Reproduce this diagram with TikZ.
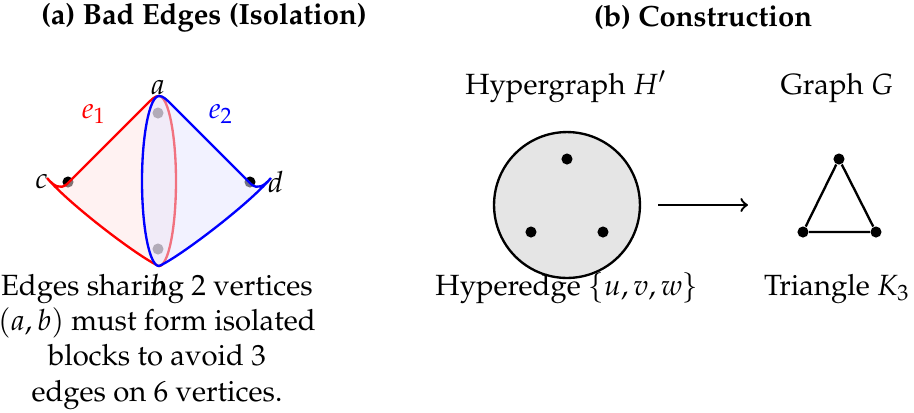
\documentclass[tikz,border=0pt]{standalone}
\usepackage[T1]{fontenc}
\usepackage{mathpazo}
\usetikzlibrary{arrows.meta}

\begin{document}
\begin{tikzpicture}[
    x=0.342pt, y=-0.342pt, >=to,
    vtx/.style={circle, fill=black, inner sep=0pt, minimum size=3.8pt},
    lbl/.style={inner sep=0pt},
    title/.style={font=\bfseries},
    edgeone/.style={draw=red, thick, fill=red!10, fill opacity=0.5},
    edgetwo/.style={draw=blue, thick, fill=blue!10, fill opacity=0.5},
]
    \useasboundingbox (0,0) rectangle (914,412);

    % (a) Bad edges
    \node[title] (ta) at (204,18) {(a) Bad Edges (Isolation)};
    \node[vtx, label={[lbl, label distance=3.9pt]above:$a$}] (va) at (158,113) {};
    \node[vtx, label={[lbl, label distance=6.3pt]below:$b$}] (vb) at (158,249) {};
    \node[vtx, label={[lbl, label distance=4.6pt]left:$c$}] (vc) at (68,182) {};
    \node[vtx, label={[lbl, label distance=3.9pt]right:$d$}] (vd) at (250,182) {};

    \path[edgeone] (47,178) .. controls (54,186) and (60,190) .. (67,184)
        -- (146,105) .. controls (152,99) and (155,96) .. (159,96)
        .. controls (168.4,96) and (176,135) .. (176,181)
        .. controls (176,228) and (168.4,266) .. (159,266)
        .. controls (140,258) and (70,205) .. cycle;
    \path[edgetwo] (271,178) .. controls (264,186) and (258,190) .. (251,184)
        -- (172,105) .. controls (166,99) and (163,96) .. (159,96)
        .. controls (149.6,96) and (142,135) .. (142,181)
        .. controls (142,228) and (149.6,266) .. (159,266)
        .. controls (178,258) and (248,205) .. cycle;
    \node[red] (le1) at (94,114) {$e_1$};
    \node[blue] (le2) at (221,114) {$e_2$};

    \node[anchor=north, inner sep=0pt, align=center] (note) at (157,274)
        {Edges sharing 2 vertices\\ $(a,b)$ must form isolated\\
         blocks to avoid 3\\ edges on 6 vertices.};

    % (b) Construction
    \node[title] (tb) at (703,18) {(b) Construction};
    \node[anchor=base] (thyp) at (566,94) {Hypergraph $H'$};
    \node[circle, draw, thick, fill=black!10, inner sep=0pt,
          minimum size=49.9pt] (hedge) at (567,205) {};
    \node[vtx] (hu) at (567,159) {};
    \node[vtx] (hv) at (531,232) {};
    \node[vtx] (hw) at (603,232) {};
    \node[anchor=base] (thedge) at (567,295) {Hyperedge $\{u,v,w\}$};

    \coordinate (arrowend) at (748,205);
    \draw[->, thick, shorten <=5.8pt] (hedge) -- (arrowend);

    \node[anchor=base] (tgraph) at (837,94) {Graph $G$};
    \node[vtx] (gu) at (839,159) {};
    \node[vtx] (gv) at (803,232) {};
    \node[vtx] (gw) at (876,232) {};
    \draw[thick] (gu) -- (gv) -- (gw) -- (gu);
    \node[anchor=base] (ttri) at (837,295) {Triangle $K_3$};
\end{tikzpicture}
\end{document}
